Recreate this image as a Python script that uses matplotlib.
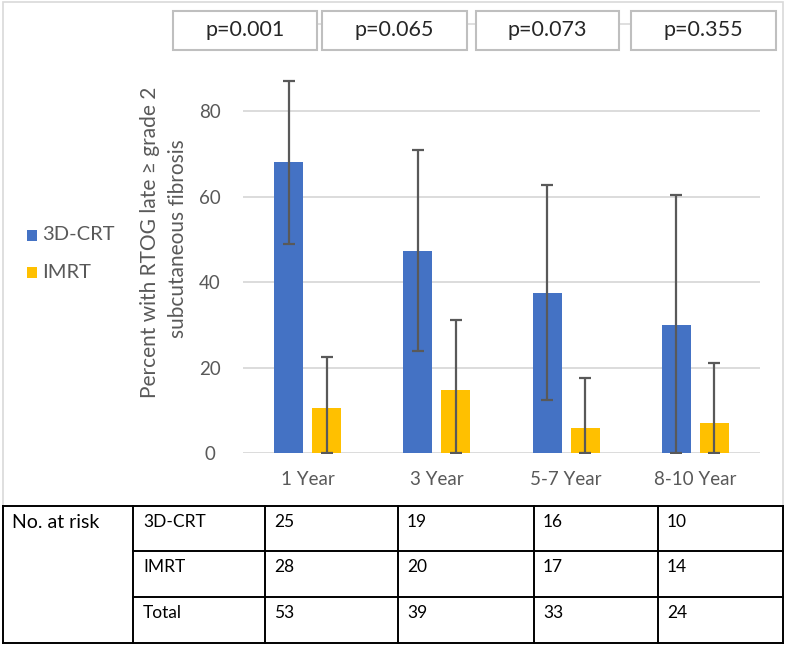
import matplotlib
matplotlib.use("Agg")
import matplotlib.pyplot as plt
from matplotlib.patches import Rectangle
import numpy as np

plt.rcParams['font.family'] = ['Lato', 'DejaVu Sans']

categories = ["1 Year", "3 Year", "5-7 Year", "8-10 Year"]
series_names = ["3D-CRT", "IMRT"]
crt_values = [68.0, 47.3, 37.5, 29.9]
crt_upper = [87.0, 70.9, 62.6, 60.4]
crt_lower = [49.0, 23.9, 12.5, 0.0]
imrt_values = [10.7, 14.9, 5.8, 7.1]
imrt_upper = [22.5, 31.2, 17.6, 21.2]
imrt_lower = [0.0, 0.0, 0.0, 0.0]
p_values = ["p=0.001", "p=0.065", "p=0.073", "p=0.355"]
y_ticks = [0, 20, 40, 60, 80]
risk_rows = ["3D-CRT", "IMRT", "Total"]
risk_crt = [25, 19, 16, 10]
risk_imrt = [28, 20, 17, 14]
risk_total = [53, 39, 33, 24]

W, H = 787, 646
fig = plt.figure(figsize=(W / 100, H / 100), dpi=100)

BLUE = "#4472C4"
YELLOW = "#FFC000"
TXT = "#595959"

# overlay axes in pixel coordinates
ov = fig.add_axes([0, 0, 1, 1], zorder=0)
ov.set_xlim(0, W)
ov.set_ylim(H, 0)
ov.axis("off")

# chart area border
ov.add_patch(Rectangle((3, 2), 780, 504, fill=False, ec="#d9d9d9", lw=1.2))

# main axes
ax_left, ax_right = 243, 760
y0_px, ymax = 453.3, 90
px_per = 342.3 / 80
ax_top = y0_px - ymax * px_per
ax = fig.add_axes([ax_left / W, (H - y0_px) / H, (ax_right - ax_left) / W, (y0_px - ax_top) / H], zorder=2)
ax.patch.set_alpha(0)

x = np.arange(len(categories))
bw = 0.224
off = 0.147
crt_err = [np.array(crt_values) - np.array(crt_lower), np.array(crt_upper) - np.array(crt_values)]
imrt_err = [np.array(imrt_values) - np.array(imrt_lower), np.array(imrt_upper) - np.array(imrt_values)]
ax.bar(x - off, crt_values, bw, color=BLUE, zorder=2, label=series_names[0])
ax.bar(x + off, imrt_values, bw, color=YELLOW, zorder=2, label=series_names[1])
ekw = dict(fmt="none", ecolor="#595959", elinewidth=1.6, capsize=4.5, capthick=1.6, zorder=3)
ax.errorbar(x - off, crt_values, yerr=crt_err, **ekw)
ax.errorbar(x + off, imrt_values, yerr=imrt_err, **ekw)

ax.set_xlim(-0.5, len(categories) - 0.5)
ax.set_ylim(0, ymax)
ax.set_yticks(y_ticks)
ax.set_xticks(x)
ax.set_xticklabels(categories)
ax.grid(axis="y", color="#d9d9d9", lw=1.3, zorder=0)
ax.set_axisbelow(True)
for s in ax.spines.values():
    s.set_visible(False)
ax.tick_params(axis="both", length=0, labelsize=13.5, colors=TXT)
ax.tick_params(axis="x", pad=13)
for lab in ax.get_yticklabels():
    lab.set_horizontalalignment("center")
ax.tick_params(axis="y", pad=24)

# y label (two lines)
ov.text(150, 242.5, "Percent with RTOG late \u2265 grade 2", rotation=90, ha="center", va="center",
        fontsize=15, color=TXT)
ov.text(178, 239, "subcutaneous fibrosis", rotation=90, ha="center", va="center",
        fontsize=15, color=TXT)

# legend
leg_y = [235, 272]
for name, col, yy in zip(series_names, [BLUE, YELLOW], leg_y):
    ov.add_patch(Rectangle((27, yy - 5.5), 10, 11, color=col, lw=0))
    ov.text(42, yy, name, ha="left", va="center", fontsize=14.5, color=TXT)

# p-value boxes
boxes = [(173, 317), (322, 467), (476, 619), (631, 776)]
ov.plot([boxes[0][0] + 10, boxes[-1][1] - 10], [24, 24], color="#d9d9d9", lw=1.2, zorder=1)
for (bl, br), p in zip(boxes, p_values):
    ov.add_patch(Rectangle((bl, 10.5), br - bl, 39, fc="white", ec="#bfbfbf", lw=1.5, zorder=2))
    ov.text((bl + br) / 2, 30.5, p, ha="center", va="center", fontsize=15.5, color="#262626", zorder=3)

# risk table
cols = [3, 133, 265, 398, 534, 658, 783]
rows = [506, 551, 597, 643]
lk = dict(color="black", lw=1.4, zorder=3)
ov.plot([cols[0], cols[-1]], [rows[0], rows[0]], **lk)
ov.plot([cols[0], cols[-1]], [rows[-1], rows[-1]], **lk)
for r in rows[1:-1]:
    ov.plot([cols[1], cols[-1]], [r, r], **lk)
for c in cols:
    ov.plot([c, c], [rows[0], rows[-1]], **lk)
ov.text(12, 523, "No. at risk", ha="left", va="center", fontsize=14, color="black")
row_vals = [risk_crt, risk_imrt, risk_total]
for i, (rn, vals) in enumerate(zip(risk_rows, row_vals)):
    ty = rows[i] + 16
    ov.text(cols[1] + 10, ty, rn, ha="left", va="center", fontsize=12.5, color="black")
    for j, v in enumerate(vals):
        ov.text(cols[2 + j] + 9, ty, str(v), ha="left", va="center", fontsize=12.5, color="black")

fig.savefig("out.png", dpi=100)
